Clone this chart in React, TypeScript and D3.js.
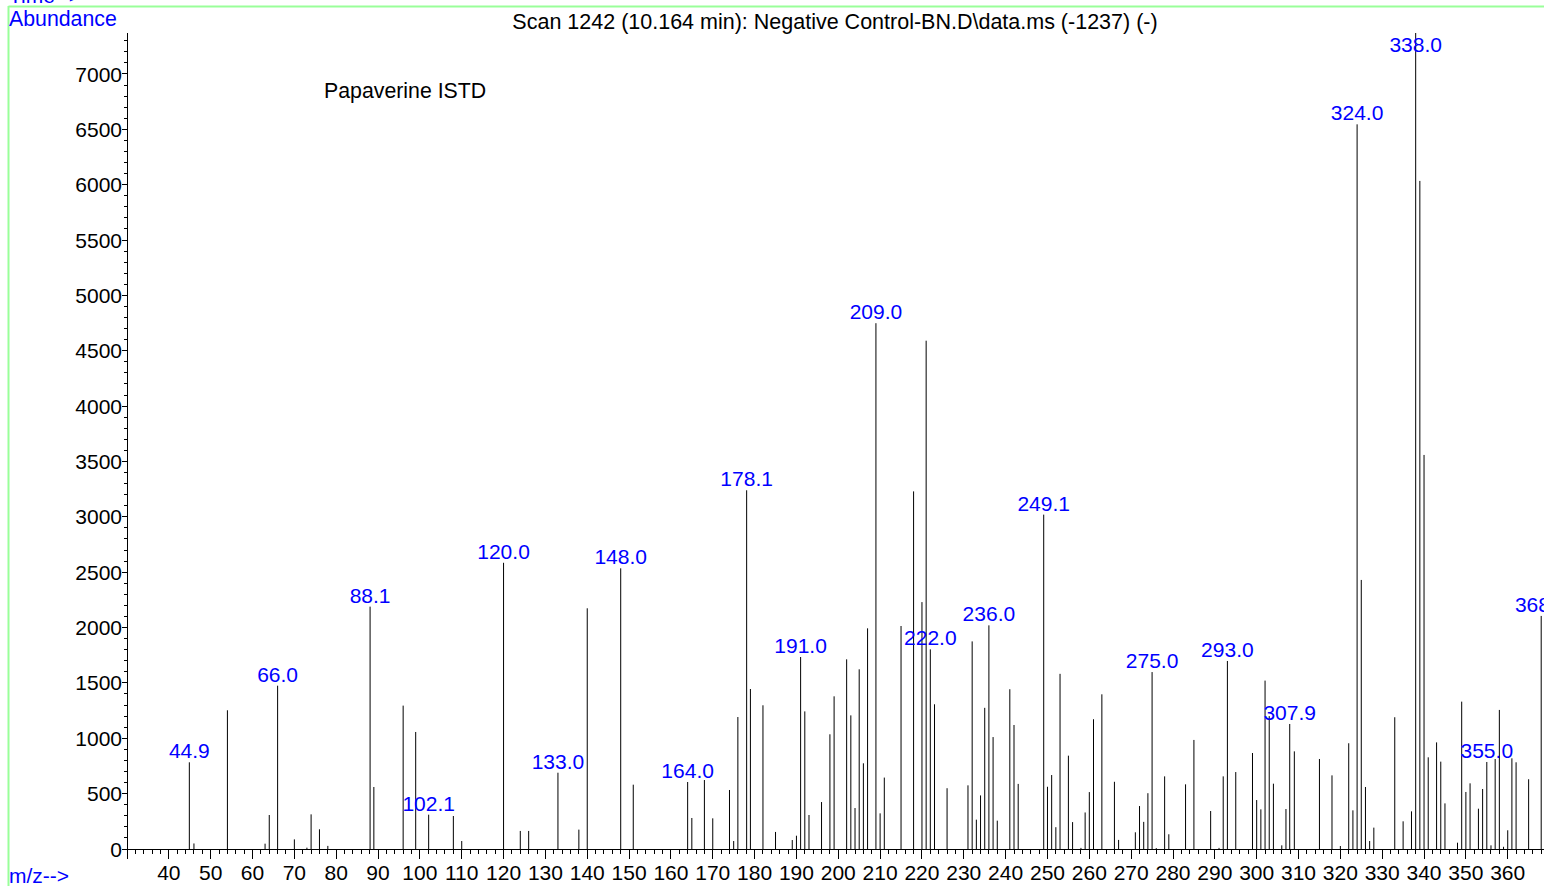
import React from "react";
import * as d3 from "d3";

// ---- data (m/z, abundance) ----
const mzValues: number[] = [
  44.9, 46, 54, 63, 64, 66, 70, 73, 74, 76, 78, 88.1, 89, 96, 99, 102.1, 108, 110,
  120, 124, 126, 133, 138, 140, 148, 151, 164, 165, 168, 170, 174, 175, 176, 178.1,
  179, 182, 185, 189, 190, 191, 192, 193, 196, 198, 199, 202, 203, 204, 205, 206,
  207, 209, 210, 211, 215, 218, 220, 221, 222, 223, 226, 231, 232, 233, 234, 235,
  236, 237, 238, 241, 242, 243, 249.1, 250, 251, 252, 253, 255, 256, 258, 259, 260,
  261, 263, 266, 267, 271, 272, 273, 274, 275, 276, 278, 279, 283, 285, 289, 291,
  292, 293, 295, 299, 300, 301, 302, 303, 304, 306, 307, 307.9, 309, 315, 318, 320,
  322, 323, 324, 325, 326, 327, 328, 333, 335, 337, 338, 339, 340, 341, 343, 344,
  345, 348, 349, 350, 351, 353, 354, 355, 356, 357, 358, 359, 360, 361, 362, 365, 368,
];
const abundanceValues: number[] = [
  783, 50, 1253, 48, 307, 1475, 87, 12, 313, 178, 28, 2189, 560, 1295, 1057, 310, 298, 72,
  2585, 163, 163, 689, 175, 2174, 2535, 581, 605, 280, 623, 277, 533, 72, 1192, 3240,
  1445, 1298, 154, 81, 120, 1734, 1243, 307, 424, 1036, 1379, 1713, 1207, 370, 1623, 774,
  1993, 4749, 322, 645, 2014, 3230, 2230, 4591, 1803, 1307, 549, 575, 1875, 265, 484, 1275,
  2020, 1011, 256, 1443, 1120, 588, 3020, 562, 668, 197, 1582, 843, 243, 10, 330, 514,
  1172, 1397, 607, 82, 151, 388, 245, 504, 1598, 8, 656, 133, 584, 985, 343, 10,
  656, 1698, 695, 867, 442, 358, 1521, 1200, 590, 33, 361, 1129, 882, 813, 665, 27,
  955, 349, 6545, 2430, 560, 72, 193, 1190, 250, 340, 7370, 6034, 3559, 828, 963, 789,
  412, 57, 1331, 515, 593, 364, 542, 786, 33, 813, 1256, 20, 169, 819, 783, 630, 2105,
];
const labeledMz: number[] = [
  44.9, 66, 88.1, 102.1, 120, 133, 148, 164, 178.1, 191, 209, 222, 236, 249.1, 275,
  293, 307.9, 324, 338, 355, 368,
];
const xTickValues: number[] = d3.range(40, 361, 10);
const xMinorTickValues: number[] = d3.range(30, 371, 2);
const yTickValues: number[] = d3.range(0, 7001, 500);
const yMinorTickValues: number[] = d3.range(0, 7301, 100);

const titleText = "Scan 1242 (10.164 min): Negative Control-BN.D\\data.ms (-1237) (-)";
const annotationText = "Papaverine ISTD";

const W = 1544;
const H = 886;
const FONT = "'Liberation Sans', Arial, Helvetica, sans-serif";
const BLUE = "#0000ff";
const GREEN = "#99ff99";

export default function App() {
  const x = d3.scaleLinear().domain([30, 370]).range([127, 127 + 340 * 4.184]);
  const y = d3.scaleLinear().domain([0, 7370]).range([849, 33]);
  const x0 = x(30);
  const y0 = y(0);

  const peaks = mzValues.map((m, i) => ({ m, a: abundanceValues[i] }));

  return (
    <>
      <style>{"body{margin:0;overflow:hidden}"}</style>
      <svg
        width={W}
        height={H}
        style={{ position: "absolute", left: 0, top: 0, background: "#fff" }}
        fontFamily={FONT}
      >
        <rect x={0} y={0} width={W} height={H} fill="#fff" />
        {/* green frame */}
        <line x1={8.5} y1={6.5} x2={W} y2={6.5} stroke={GREEN} strokeWidth={2} />
        <line x1={8.5} y1={6} x2={8.5} y2={H} stroke={GREEN} strokeWidth={2} />

        <text x={9} y={3} fill={BLUE} fontSize={21}>Time--&gt;</text>
        <text x={9} y={26} fill={BLUE} fontSize={21.3}>Abundance</text>
        <text x={9} y={883} fill={BLUE} fontSize={21}>m/z--&gt;</text>

        <text x={835} y={28.5} fontSize={21.5} textAnchor="middle" fill="#000">{titleText}</text>
        <text x={324} y={98} fontSize={21.3} fill="#000">{annotationText}</text>

        {/* axes */}
        <g stroke="#000" strokeWidth={1} shapeRendering="crispEdges">
          <line x1={x0} y1={y(7370)} x2={x0} y2={y0} />
          <line x1={x0} y1={y0} x2={W + 10} y2={y0} />
          {yMinorTickValues.map((v) => (
            <line key={"ym" + v} x1={x0 - (v % 500 === 0 ? 5 : 3)} x2={x0} y1={y(v)} y2={y(v)} />
          ))}
          {xMinorTickValues.map((v) => (
            <line key={"xm" + v} x1={x(v)} x2={x(v)} y1={y0} y2={y0 + (v % 10 === 0 ? 10 : 5)} />
          ))}
        </g>
        {yTickValues.map((v) => (
          <text key={"yl" + v} x={122} y={y(v)} dy="0.36em" textAnchor="end" fontSize={21} fill="#000">
            {v}
          </text>
        ))}
        {xTickValues.map((v) => (
          <text key={"xl" + v} x={x(v)} y={880} textAnchor="middle" fontSize={21} fill="#000">
            {v}
          </text>
        ))}

        {/* peaks */}
        <g stroke="#000" strokeWidth={1}>
          {peaks.map((p, i) => (
            <line key={"p" + i} x1={x(p.m)} x2={x(p.m)} y1={y0} y2={y(p.a)} />
          ))}
        </g>

        {/* peak labels */}
        {peaks
          .filter((p) => labeledMz.includes(p.m))
          .map((p, i) => (
            <text
              key={"lab" + i}
              x={x(p.m)}
              y={Math.max(y(p.a) - 4, 52)}
              textAnchor="middle"
              fontSize={21}
              fill={BLUE}
            >
              {p.m.toFixed(1)}
            </text>
          ))}
      </svg>
    </>
  );
}
